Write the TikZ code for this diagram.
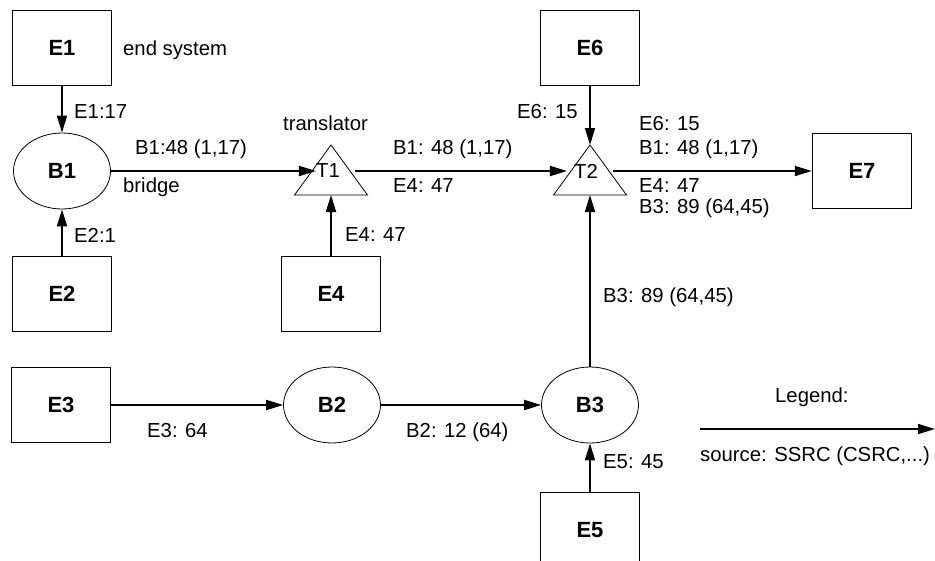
\documentclass[tikz,border=0pt]{standalone}
\usepackage{fontspec}
\setmainfont{Liberation Sans}
\usetikzlibrary{shapes.geometric,arrows.meta}

\begin{document}
\begin{tikzpicture}
[x=1pt,y=-1pt,
  boxdecorate/.style={shape=rectangle,draw,line width=1.4pt,inner sep=0pt,%
    minimum width=99pt,minimum height=75pt,font=\fontsize{22}{26}\selectfont\bfseries},%
  bridgedecorate/.style={shape=ellipse,draw,line width=0.8pt,inner sep=0pt,%
    minimum width=97pt,minimum height=76pt,font=\fontsize{22}{26}\selectfont\bfseries},%
  transdecorate/.style={inner sep=0pt,font=\fontsize{20.3}{24}\selectfont},%
  tridecorate/.style={draw,line width=0.8pt},%
  linedecorate/.style={-{Triangle[length=17pt,width=10pt]},line width=1.8pt},%
  labeldecorate/.style={anchor=base west,inner sep=0pt,font=\fontsize{20.3}{24}\selectfont}]
\useasboundingbox (0,0) rectangle (935,560);
%% end systems
\foreach \nodename/\x/\y in {E1/62/48, E2/62/294, E3/61/405, E4/331/294,
  E5/590/530, E6/590/48, E7/862/171}
{
  \node (\nodename) at (\x,\y) [boxdecorate] {\nodename};
}
%% bridges
\foreach \nodename/\x/\y in {B1/62/171, B2/332/405, B3/590/405}
{
  \node (\nodename) at (\x,\y) [bridgedecorate] {\nodename};
}
%% translators
\node (T1) at (328,171) [transdecorate] {T1};
\node (T2) at (586,171) [transdecorate] {T2};
\foreach \nodename/\x in {T1/331, T2/590}
{
  \coordinate (\nodename-top) at (\x,145);
  \coordinate (\nodename-bot) at (\x,195);
  \draw[tridecorate] (\nodename-top) -- ++(-36.5,50) -- ++(73,0) -- cycle;
}
%% streams
\path
\foreach \startnode/\endnode in {E1/B1, E2/B1, E3/B2, B2/B3, E5/B3,
  B1/T1, E4/T1-bot, B3/T2-bot, E6/T2-top}
{
  (\startnode) edge[linedecorate] (\endnode)
};
\path ([xshift=15pt]T1.east) edge[linedecorate] ([xshift=-7pt]T2.west);
\path ([xshift=15pt]T2.east) edge[linedecorate] (E7);
%% labels
\node (endsys) at (123,55) [labeldecorate] {end system};
\node (bridge) at (123,192) [labeldecorate] {bridge};
\node (translator) at (283,130) [labeldecorate] {translator};
\node (lE1) at (74,118) [labeldecorate] {E1:17};
\node (lE2) at (74,242) [labeldecorate] {E2:1};
\node (lB1) at (135,154) [labeldecorate] {B1:48 (1,17)};
\node (lT1a) at (393,154) [labeldecorate] {B1: 48 (1,17)};
\node (lT1b) at (393,192) [labeldecorate] {E4: 47};
\node (lE4) at (345,241) [labeldecorate] {E4: 47};
\node (lE6) at (517,118) [labeldecorate] {E6: 15};
\node (lT2a) at (639,130) [labeldecorate] {E6: 15};
\node (lT2b) at (639,154) [labeldecorate] {B1: 48 (1,17)};
\node (lT2c) at (639,192) [labeldecorate] {E4: 47};
\node (lT2d) at (639,213) [labeldecorate] {B3: 89 (64,45)};
\node (lB3) at (603,302) [labeldecorate] {B3: 89 (64,45)};
\node (lE3) at (147,437) [labeldecorate] {E3: 64};
\node (lB2) at (406,437) [labeldecorate] {B2: 12 (64)};
\node (lE5) at (603,468) [labeldecorate] {E5: 45};
%% legend
\node (legend) at (775,402) [labeldecorate] {Legend:};
\coordinate (legendstart) at (700,429);
\coordinate (legendend) at (935,429);
\draw[linedecorate,line width=1.4pt] (legendstart) -- (legendend);
\node (legendtext) at (700,461) [labeldecorate] {source: SSRC (CSRC,...)};
\end{tikzpicture}
\end{document}
